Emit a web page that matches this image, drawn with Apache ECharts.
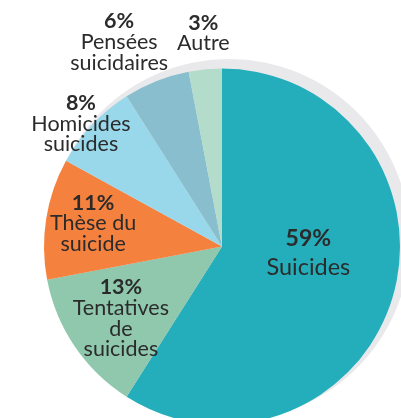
<!DOCTYPE html>
<html>
<head>
<meta charset="utf-8">
<script src="https://cdn.jsdelivr.net/npm/echarts@6/dist/echarts.min.js"></script>
<style>
  html, body { margin: 0; padding: 0; background: #ffffff; }
  #chart { width: 401px; height: 418px; }
</style>
</head>
<body>
<div id="chart"></div>
<script>
// Share of each category, in percent
const categories = ['Suicides', 'Tentatives de suicides', 'Thèse du suicide', 'Homicides suicides', 'Pensées suicidaires', 'Autre'];
const values = [59, 13, 11, 8, 6, 3];
// Text lines of each slice label
const labelLines = [['Suicides'], ['Tentatives', 'de', 'suicides'], ['Thèse du', 'suicide'], ['Homicides', 'suicides'], ['Pensées', 'suicidaires'], ['Autre']];

// Slice fills and label nudges (relative to the default inside position)
const colors = ['#24ADBB', '#8FC8AD', '#F5813F', '#99D8EA', '#89BECE', '#B3DCCB'];
const labelOffsets = [[-2, -18], [-25, 20], [-38, -9], [-74, -60], [-69, -119], [-10, -122]];

const chart = echarts.init(document.getElementById('chart'), null, { renderer: 'canvas' });

const data = categories.map((name, i) => {
  const big = i === 0;
  const p = big ? 'pl' : 'p';
  const n = big ? 'nl' : 'n';
  const text = '{' + p + '|' + values[i] + '%}\n' + labelLines[i].map(l => '{' + n + '|' + l + '}').join('\n');
  return {
    name: name,
    value: values[i],
    itemStyle: { color: colors[i] },
    label: { formatter: text, offset: labelOffsets[i] }
  };
});

const option = {
  animation: false,
  series: [
    {
      // soft grey halo behind the pie
      type: 'pie',
      silent: true,
      center: [229, 240],
      radius: 181,
      startAngle: 90,
      label: { show: false },
      labelLine: { show: false },
      emphasis: { disabled: true },
      data: [{ value: 1, itemStyle: { color: '#E9E9EC' } }]
    },
    {
      type: 'pie',
      center: [222, 246.5],
      radius: 178,
      startAngle: 90,
      clockwise: true,
      avoidLabelOverlap: false,
      emphasis: { disabled: true },
      itemStyle: { borderWidth: 0 },
      labelLine: { show: false },
      label: {
        show: true,
        position: 'inside',
        color: '#2B2B2B',
        fontFamily: 'Lato',
        rich: {
          p: { fontFamily: 'Lato', fontWeight: 'bold', fontSize: 21.5, lineHeight: 21, color: '#2B2B2B', align: 'center' },
          n: { fontFamily: 'Lato', fontSize: 21.5, lineHeight: 20.5, color: '#2B2B2B', align: 'center' },
          pl: { fontFamily: 'Lato', fontWeight: 'bold', fontSize: 23, lineHeight: 27, color: '#2B2B2B', align: 'center' },
          nl: { fontFamily: 'Lato', fontSize: 23.5, lineHeight: 31, color: '#2B2B2B', align: 'center' }
        }
      },
      data: data
    }
  ]
};

chart.setOption(option);
</script>
</body>
</html>
